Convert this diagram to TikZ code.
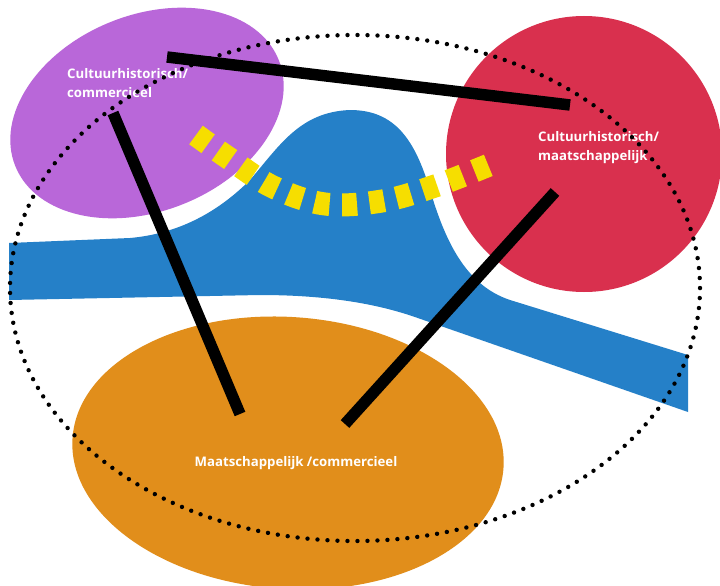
\documentclass[tikz,border=0pt]{standalone}
\usepackage{fontspec}
\newfontfamily\lblfont{Open Sans}
\definecolor{cpurple}{RGB}{185,103,217}
\definecolor{cred}{RGB}{217,48,78}
\definecolor{cblue}{RGB}{37,128,200}
\definecolor{corange}{RGB}{225,142,27}
\definecolor{cyellow}{RGB}{246,222,0}
\tikzset{
  lbl/.style={text=white, font=\lblfont\bfseries\fontsize{13.2}{19.5}\selectfont, inner sep=0pt},
  bar/.style={line width=11.5pt, black, line cap=butt},
  ring/.style={line width=4.4pt, black, line cap=round, dash pattern=on 0pt off 10pt},
  track/.style={line width=23pt, cyellow, dash pattern=on 15pt off 12.5pt, line cap=butt}
}
\begin{document}
\begin{tikzpicture}[x=1pt,y=-1pt]
\path[use as bounding box] (0,0) rectangle (720,586);
\clip (0,0) rectangle (720,586);
\fill[white] (0,0) rectangle (720,586);
% blue river
\fill[cblue] (9,243) -- (130,238)
  .. controls (175,234) and (215,215) .. (250,180)
  .. controls (280,145) and (300,112) .. (350,110)
  .. controls (395,110) and (415,140) .. (430,190)
  .. controls (445,240) and (465,285) .. (510,300)
  -- (688,355) -- (688,412) -- (412,316)
  .. controls (370,302) and (320,295) .. (260,295)
  -- (9,300) -- cycle;
% ellipses
\fill[cpurple, shift={(147,113)}, rotate=22] (0,0) ellipse [x radius=142pt, y radius=98pt];
\fill[cred] (584,154) circle [radius=138pt];
\fill[corange, shift={(288,453)}, rotate=-4] (0,0) ellipse [x radius=216pt, y radius=136pt];
% yellow dashed track
\draw[track] plot[smooth, tension=0.6] coordinates {(196,135) (227,157) (273,187) (325,204) (382,201) (435,186) (494,163)};
% labels
\node[lbl, anchor=north west, align=left] (purpleLbl) at (67,68) {Cultuurhistorisch/\\commercieel};
\node[lbl, anchor=north west, align=left] (redLbl) at (538,131) {Cultuurhistorisch/\\maatschappelijk};
\node[lbl, anchor=center] (orangeLbl) at (296,463) {Maatschappelijk /commercieel};
% dotted boundary
\draw[ring] (355,288) ellipse [x radius=345pt, y radius=253pt];
% black bars
\coordinate (b1a) at (167,57); \coordinate (b1b) at (570,105);
\coordinate (b2a) at (113,113); \coordinate (b2b) at (240,414);
\coordinate (b3a) at (555,192); \coordinate (b3b) at (345,424);
\draw[bar] (b1a) -- (b1b);
\draw[bar] (b2a) -- (b2b);
\draw[bar] (b3a) -- (b3b);
\end{tikzpicture}
\end{document}
